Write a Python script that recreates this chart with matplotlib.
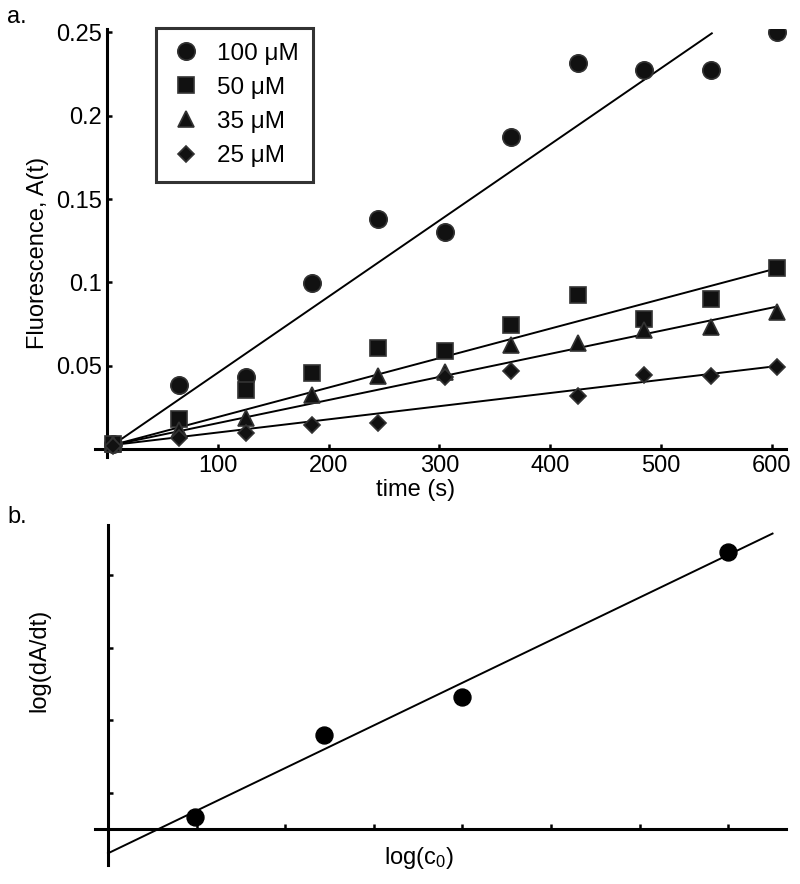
import numpy as np
import matplotlib
matplotlib.use("Agg")
import matplotlib.pyplot as plt

plt.rcParams['font.family'] = ['Liberation Sans', 'DejaVu Sans']
plt.rcParams['mathtext.fontset'] = 'custom'
plt.rcParams['mathtext.rm'] = 'Liberation Sans'
plt.rcParams['mathtext.it'] = 'Liberation Sans'

# panel a: fluorescence vs time
time_s = [5, 65, 125, 185, 245, 305, 365, 425, 485, 545, 605]
a_100 = [0.003, 0.0385, 0.0435, 0.0998, 0.1378, 0.1305, 0.1875, 0.2315, 0.2275, 0.2275, 0.2500]
a_50 = [0.003, 0.0178, 0.0355, 0.0455, 0.0605, 0.0590, 0.0745, 0.0925, 0.0780, 0.0900, 0.1085]
a_35 = [0.003, 0.0115, 0.0185, 0.0325, 0.0438, 0.0460, 0.0625, 0.0638, 0.0715, 0.0730, 0.0820]
a_25 = [0.002, 0.0065, 0.0095, 0.0145, 0.0155, 0.0430, 0.0470, 0.0318, 0.0445, 0.0440, 0.0495]
series_labels = ['100 μM', '50 μM', '35 μM', '25 μM']

# linear fits (start and end points)
fit_t_100 = [5, 546]
fit_100 = [0.0024, 0.2495]
fit_t = [5, 605]
fit_50 = [0.0024, 0.1085]
fit_35 = [0.0024, 0.0855]
fit_25 = [0.0024, 0.0498]

# panel b: log rate vs log concentration
conc_uM = [25, 35, 50, 100]
log_rate = [-4.066, -3.842, -3.736, -3.335]
fit_logc = [1.3, 2.05]
fit_lograte = [-4.167, -3.285]

W, H = 800, 884
fig = plt.figure(figsize=(8, 8.84), dpi=100)

def px_axes(left, top, right, bottom):
    return fig.add_axes([left / W, 1 - bottom / H, (right - left) / W, (bottom - top) / H])

spine_w = 2.2
fs = 17

# ---------- panel a ----------
ax = px_axes(95, 29, 786, 457)
ax.set_xlim(-11, 613)
ax.set_ylim(-0.0048, 0.2521)
for s in ['top', 'right']:
    ax.spines[s].set_visible(False)
ax.spines['left'].set_position(('data', 0))
ax.spines['bottom'].set_position(('data', 0))
for s in ['left', 'bottom']:
    ax.spines[s].set_linewidth(spine_w)

edge = '#333333'
ax.plot(fit_t_100, fit_100, color='black', lw=1.4, zorder=2)
ax.plot(fit_t, fit_50, color='black', lw=1.4, zorder=2)
ax.plot(fit_t, fit_35, color='black', lw=1.4, zorder=2)
ax.plot(fit_t, fit_25, color='black', lw=1.4, zorder=2)

h1, = ax.plot(time_s, a_100, 'o', ms=12.5, mfc='#111111', mec=edge, mew=1.2, zorder=3)
h2, = ax.plot(time_s, a_50, 's', ms=11.3, mfc='#111111', mec=edge, mew=1.2, zorder=3)
h3, = ax.plot(time_s, a_35, '^', ms=11.5, mfc='#111111', mec=edge, mew=1.2, zorder=3)
h4, = ax.plot(time_s, a_25, 'D', ms=8.3, mfc='#111111', mec=edge, mew=1.2, zorder=3)

ax.set_xticks([100, 200, 300, 400, 500, 600])
ax.set_yticks([0.05, 0.1, 0.15, 0.2, 0.25])
ax.set_yticklabels(['0.05', '0.1', '0.15', '0.2', '0.25'])
ax.tick_params(direction='in', length=3.5, width=1.8, labelsize=fs, pad=4)

ax.set_xlabel('time (s)', fontsize=fs)
ax.xaxis.set_label_coords(0.4645, -0.077)
ax.xaxis.label.set_va('center')
ax.set_ylabel('Fluorescence, A(t)', fontsize=fs)
ax.yaxis.set_label_coords(-0.0825, 0.4766)
ax.yaxis.label.set_va('center')

leg = ax.legend([h1, h2, h3, h4], series_labels, loc='upper left',
                bbox_to_anchor=(156 / W, 1 - 28 / H), bbox_transform=fig.transFigure,
                borderaxespad=0, fontsize=17.5, frameon=True, fancybox=False,
                numpoints=1, handlelength=1.3, handletextpad=0.6,
                labelspacing=0.5, borderpad=0.6)
leg.get_frame().set_edgecolor('black')
leg.get_frame().set_linewidth(2.2)

# ---------- panel b ----------
bx = px_axes(95, 525, 786, 865)
bx.set_xlim(1.2853, 2.0652)
bx.set_ylim(-4.1993, -3.2614)
for s in ['top', 'right']:
    bx.spines[s].set_visible(False)
bx.spines['left'].set_position(('data', 1.3))
bx.spines['bottom'].set_position(('data', -4.1))
for s in ['left', 'bottom']:
    bx.spines[s].set_linewidth(spine_w)

bx.plot(fit_logc, fit_lograte, color='black', lw=1.4, zorder=2)
bx.plot(np.log10(conc_uM), log_rate, 'o', ms=12.2, color='black', zorder=3)

bx.set_xticks([1.4, 1.5, 1.6, 1.7, 1.8, 1.9, 2.0])
bx.set_yticks([-4.0, -3.8, -3.6, -3.4])
bx.set_xticklabels([])
bx.set_yticklabels([])
bx.tick_params(direction='in', length=3.5, width=1.8)

bx.set_xlabel('log(c$_\\mathrm{0}$)', fontsize=fs)
bx.xaxis.set_label_coords(0.469, 0.02)
bx.xaxis.label.set_va('center')
bx.set_ylabel('log(dA/dt)', fontsize=fs)
bx.yaxis.set_label_coords(-0.081, 0.603)
bx.yaxis.label.set_va('center')

fig.text(17 / W, 1 - 17 / H, 'a.', fontsize=fs, ha='center', va='center')
fig.text(17 / W, 1 - 517 / H, 'b.', fontsize=fs, ha='center', va='center')

fig.savefig('out.png', dpi=100)
